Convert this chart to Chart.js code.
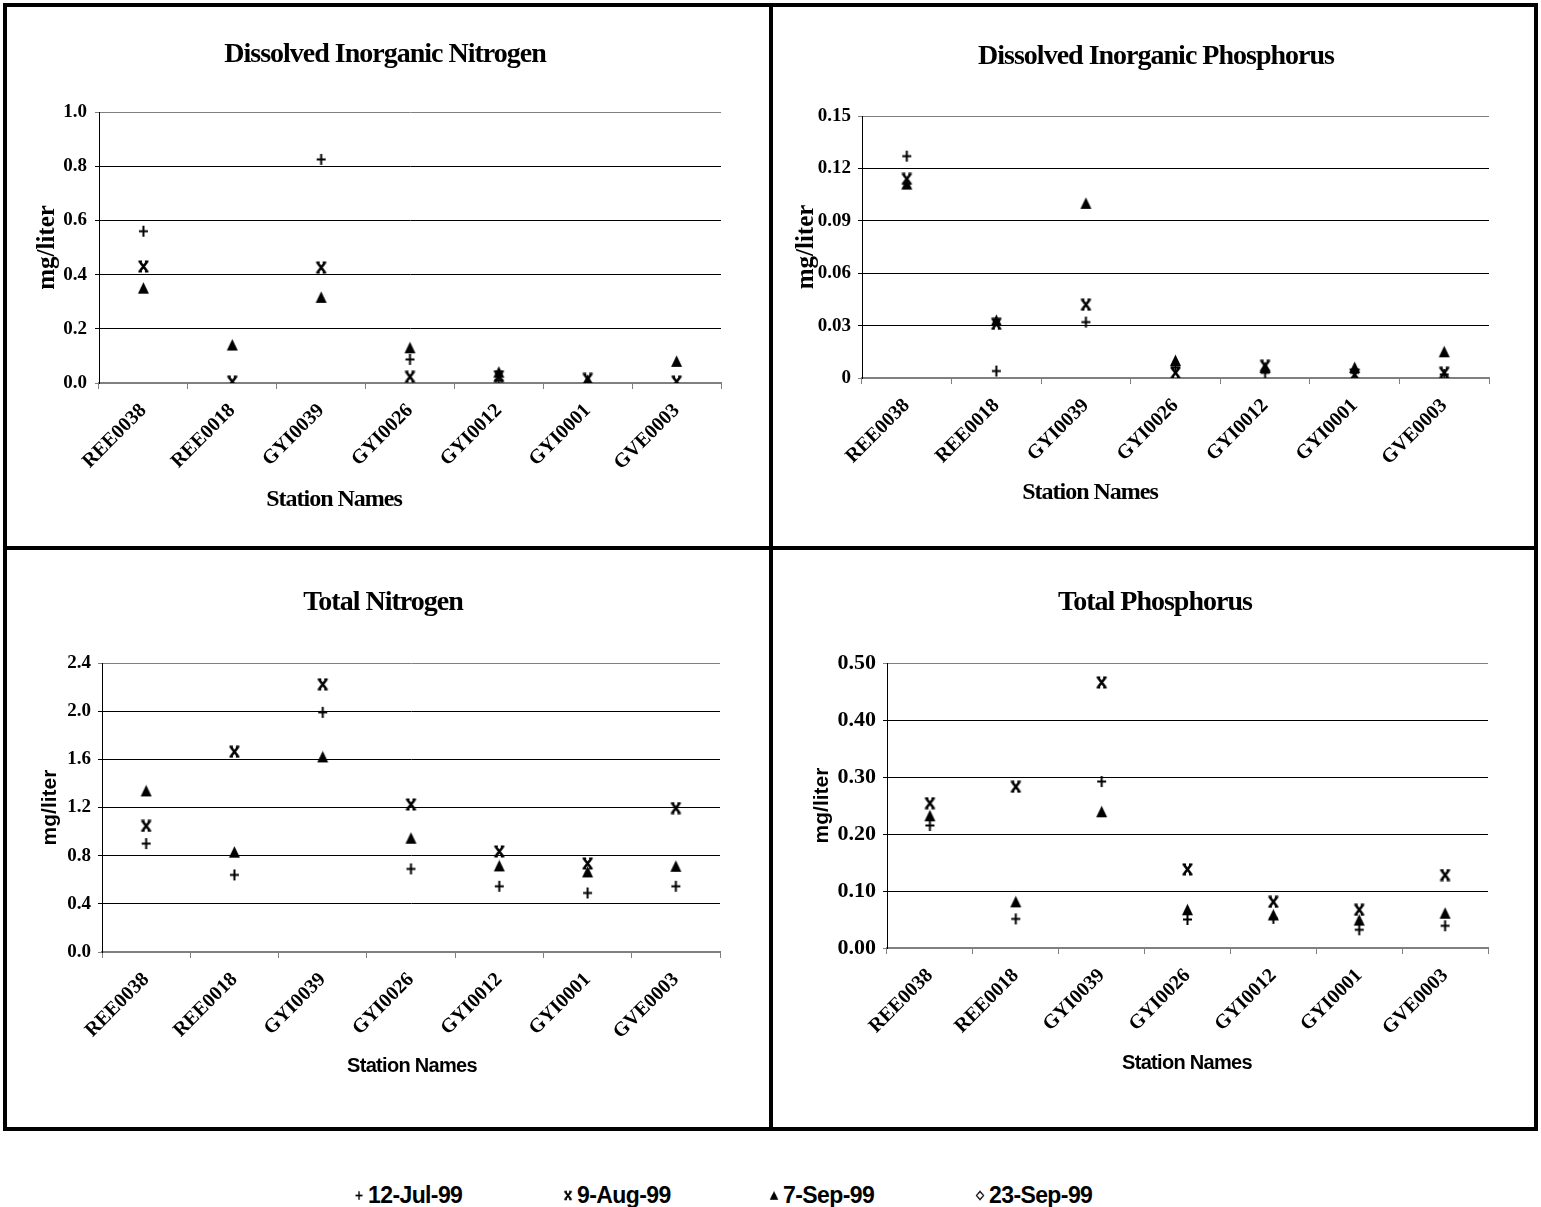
<!DOCTYPE html>
<html>
<head>
<meta charset="utf-8">
<script src="https://cdn.jsdelivr.net/npm/chart.js@4.4.1/dist/chart.umd.min.js"></script>
<style>
  body { margin: 0; background: #fff; width: 1541px; height: 1207px; position: relative; overflow: hidden; }
  .panel { position: absolute; border: 4px solid #000; box-sizing: border-box; }
  canvas.chart { position: absolute; }
  .txt { position: absolute; transform: translate(-50%, -50%); white-space: nowrap; line-height: 1; color: #000; font-weight: bold; }
  .serif { font-family: "Liberation Serif", "Times New Roman", serif; }
  .sans { font-family: "Liberation Sans", Arial, sans-serif; }
  .legend-item { position: absolute; top: 1195px; transform: translateY(-50%); display: flex; align-items: center; font-family: "Liberation Sans", Arial, sans-serif; font-weight: bold; font-size: 23px; letter-spacing: -0.6px; }
  .legend-item img { width: 10px; height: 10px; margin-right: 4px; }
</style>
</head>
<body>
<div class="panel" style="left:3px;top:3px;width:770px;height:547px"></div>
<div class="panel" style="left:769px;top:3px;width:769px;height:547px"></div>
<div class="panel" style="left:3px;top:546px;width:770px;height:585px"></div>
<div class="panel" style="left:769px;top:546px;width:769px;height:585px"></div>

<canvas class="chart" id="din" width="762" height="539" style="left:7px;top:7px"></canvas>
<canvas class="chart" id="dip" width="761" height="539" style="left:773px;top:7px"></canvas>
<canvas class="chart" id="tn" width="762" height="577" style="left:7px;top:550px"></canvas>
<canvas class="chart" id="tp" width="761" height="577" style="left:773px;top:550px"></canvas>

<div class="txt serif" style="left:385px;top:53px;font-size:28px;letter-spacing:-1px">Dissolved Inorganic Nitrogen</div>
<div class="txt serif" style="left:1156px;top:55px;font-size:28px;letter-spacing:-1px">Dissolved Inorganic Phosphorus</div>
<div class="txt serif" style="left:383px;top:601px;font-size:28px;letter-spacing:-1px">Total Nitrogen</div>
<div class="txt serif" style="left:1155px;top:601px;font-size:28px;letter-spacing:-1px">Total Phosphorus</div>

<div class="txt serif" style="left:334px;top:498px;font-size:24px;letter-spacing:-1px">Station Names</div>
<div class="txt serif" style="left:1090px;top:491px;font-size:24px;letter-spacing:-1px">Station Names</div>
<div class="txt sans" style="left:412px;top:1065px;font-size:20px;letter-spacing:-0.7px">Station Names</div>
<div class="txt sans" style="left:1187px;top:1062px;font-size:20px;letter-spacing:-0.7px">Station Names</div>

<div id="legend"></div>

<script>
const stations = ['REE0038', 'REE0018', 'GYI0039', 'GYI0026', 'GYI0012', 'GYI0001', 'GVE0003'];
const dates = ['12-Jul-99', '9-Aug-99', '7-Sep-99', '23-Sep-99'];

// Dissolved Inorganic Nitrogen (mg/liter)
const dinJul = [0.56, null, 0.825, 0.087, 0.01, null, null];
const dinAug = [0.43, 0.005, 0.426, 0.023, 0.025, 0.015, 0.005];
const dinSep = [0.35, 0.14, 0.316, 0.13, 0.04, 0.01, 0.08];
const dinSep23 = [null, null, null, null, null, null, null];
const dinTicks = ['0.0', '0.2', '0.4', '0.6', '0.8', '1.0'];

// Dissolved Inorganic Phosphorus (mg/liter)
const dipJul = [0.127, 0.004, 0.032, 0.006, 0.003, 0.003, 0.002];
const dipAug = [0.114, 0.031, 0.042, 0.003, 0.007, 0.002, 0.003];
const dipSep = [0.111, 0.033, 0.1, 0.01, 0.006, 0.006, 0.015];
const dipSep23 = [null, null, null, null, null, null, null];
const dipTicks = ['0', '0.03', '0.06', '0.09', '0.12', '0.15'];

// Total Nitrogen (mg/liter)
const tnJul = [0.9, 0.64, 1.99, 0.69, 0.546, 0.49, 0.546];
const tnAug = [1.047, 1.663, 2.223, 1.225, 0.835, 0.735, 1.195];
const tnSep = [1.338, 0.829, 1.62, 0.945, 0.715, 0.665, 0.712];
const tnSep23 = [null, null, null, null, null, null, null];
const tnTicks = ['0.0', '0.4', '0.8', '1.2', '1.6', '2.0', '2.4'];

// Total Phosphorus (mg/liter)
const tpJul = [0.215, 0.051, 0.292, 0.05, 0.052, 0.032, 0.039];
const tpAug = [0.254, 0.283, 0.466, 0.138, 0.081, 0.067, 0.128];
const tpSep = [0.232, 0.081, 0.239, 0.067, 0.058, 0.049, 0.061];
const tpSep23 = [null, null, null, null, null, null, null];
const tpTicks = ['0.00', '0.10', '0.20', '0.30', '0.40', '0.50'];

const SERIF = "'Liberation Serif', 'Times New Roman', serif";
const SANS = "'Liberation Sans', Arial, sans-serif";

// marker images, drawn once and used as point styles
function makeMarker(kind) {
  const c = document.createElement('canvas');
  c.width = 13; c.height = 13;
  const g = c.getContext('2d');
  g.strokeStyle = '#000';
  g.fillStyle = '#000';
  g.lineWidth = 2;
  g.beginPath();
  if (kind === 'plus') {
    g.moveTo(6.5, 1); g.lineTo(6.5, 12);
    g.moveTo(2, 6.5); g.lineTo(11, 6.5);
    g.stroke();
  } else if (kind === 'star') {
    g.lineWidth = 2.6;
    g.moveTo(3, 2); g.lineTo(10, 11);
    g.moveTo(10, 2); g.lineTo(3, 11);
    g.stroke();
    g.lineWidth = 2;
    g.beginPath();
    g.moveTo(1.5, 1.5); g.lineTo(5, 1.5);
    g.moveTo(8, 1.5); g.lineTo(11.5, 1.5);
    g.moveTo(1.5, 11.5); g.lineTo(5, 11.5);
    g.moveTo(8, 11.5); g.lineTo(11.5, 11.5);
    g.stroke();
  } else if (kind === 'tri') {
    g.moveTo(6.5, 0.5); g.lineTo(12, 12); g.lineTo(1, 12);
    g.closePath();
    g.fill();
  } else {
    g.fillStyle = '#fff';
    g.lineWidth = 1.6;
    g.moveTo(6.5, 1); g.lineTo(11, 6.5); g.lineTo(6.5, 12); g.lineTo(2, 6.5);
    g.closePath();
    g.fill();
    g.stroke();
  }
  return c;
}
const markers = [makeMarker('plus'), makeMarker('star'), makeMarker('tri'), makeMarker('diamond')];

function makeChart(id, box, plot, ticks, series, o) {
  const n = ticks.length;
  return new Chart(document.getElementById(id), {
    type: 'line',
    data: {
      labels: stations,
      datasets: series.map((vals, i) => ({
        label: dates[i],
        data: vals,
        showLine: false,
        pointStyle: markers[i],
        pointRadius: 6,
        borderColor: '#000',
        backgroundColor: '#000'
      }))
    },
    options: {
      responsive: false,
      animation: false,
      layout: {
        padding: { left: 0, top: plot.t - box.t, right: box.l + box.w - plot.r, bottom: 0 }
      },
      plugins: { legend: { display: false }, title: { display: false }, tooltip: { enabled: false } },
      scales: {
        x: {
          offset: true,
          afterFit: s => { s.height = box.t + box.h - plot.b; },
          grid: { offset: true, drawOnChartArea: false, color: '#808080', tickLength: 6 },
          border: { color: '#808080', width: 2 },
          ticks: {
            autoSkip: false, minRotation: 45, maxRotation: 45, padding: o.xPad,
            color: '#000', font: { family: SERIF, size: 20, weight: 'bold' }
          }
        },
        y: {
          min: 0,
          max: parseFloat(ticks[n - 1]),
          afterFit: s => { s.width = plot.l - box.l; },
          afterBuildTicks: s => { s.ticks = ticks.map(t => ({ value: parseFloat(t) })); },
          grid: {
            color: c => (c.index === 0 || c.index === n - 1) ? '#808080' : '#000',
            lineWidth: 1,
            tickLength: 4
          },
          border: { color: '#000', width: 1 },
          ticks: {
            padding: o.yPad,
            color: '#000',
            font: { family: SERIF, size: o.yTickSize, weight: 'bold' },
            callback: (v, i) => ticks[i]
          },
          title: {
            display: true,
            text: 'mg/liter',
            color: '#000',
            font: { family: o.titleFamily, size: o.titleSize, weight: 'bold' },
            padding: { top: o.titlePad, bottom: 0 }
          }
        }
      }
    }
  });
}

makeChart('din', { l: 7, t: 7, w: 762, h: 539 }, { l: 99, t: 112, r: 721, b: 383 },
  dinTicks, [dinJul, dinAug, dinSep, dinSep23],
  { xPad: 10, yPad: 8, yTickSize: 19, titleFamily: SERIF, titleSize: 25, titlePad: 26 });

makeChart('dip', { l: 773, t: 7, w: 761, h: 539 }, { l: 862, t: 116, r: 1489, b: 378 },
  dipTicks, [dipJul, dipAug, dipSep, dipSep23],
  { xPad: 10, yPad: 7, yTickSize: 19, titleFamily: SERIF, titleSize: 25, titlePad: 19 });

makeChart('tn', { l: 7, t: 550, w: 762, h: 577 }, { l: 102, t: 663, r: 720, b: 952 },
  tnTicks, [tnJul, tnAug, tnSep, tnSep23],
  { xPad: 10, yPad: 7, yTickSize: 19, titleFamily: SANS, titleSize: 21, titlePad: 31 });

makeChart('tp', { l: 773, t: 550, w: 761, h: 577 }, { l: 887, t: 663, r: 1488, b: 948 },
  tpTicks, [tpJul, tpAug, tpSep, tpSep23],
  { xPad: 10, yPad: 7, yTickSize: 22, titleFamily: SANS, titleSize: 21, titlePad: 37 });

// shared legend below the four panels
const legendLeft = [354, 563, 769, 975];
const legend = document.getElementById('legend');
dates.forEach((d, i) => {
  const item = document.createElement('div');
  item.className = 'legend-item';
  item.style.left = legendLeft[i] + 'px';
  const img = document.createElement('img');
  img.src = markers[i].toDataURL();
  item.appendChild(img);
  item.appendChild(document.createTextNode(d));
  legend.appendChild(item);
});
</script>
</body>
</html>
